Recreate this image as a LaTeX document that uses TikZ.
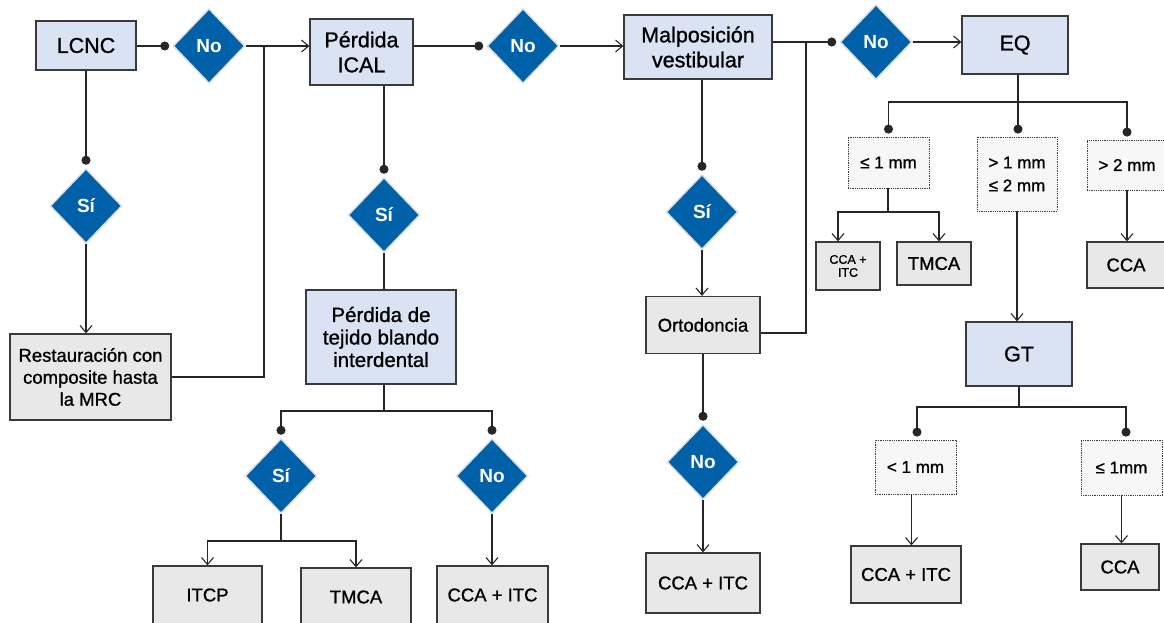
\documentclass[tikz,border=0pt]{standalone}
\usepackage{fontspec}
\setmainfont{Liberation Sans}
\newfontfamily\medfont{Liberation Sans}[FakeBold=1]
\usetikzlibrary{shapes.geometric,arrows.meta}
\definecolor{bluebox}{HTML}{DAE3F3}
\definecolor{graybox}{HTML}{E8E8E8}
\definecolor{dia}{HTML}{0060A8}
\definecolor{edgec}{HTML}{3A3A3A}
\definecolor{dotfill}{HTML}{F7F7F7}
\tikzset{
  bbox/.style={draw=edgec, line width=1.3pt, fill=bluebox, inner sep=0pt, align=center, font=\medfont\fontsize{21.5}{25}\selectfont},
  gbox/.style={draw=edgec, line width=1.3pt, fill=graybox, inner sep=0pt, align=center, font=\medfont\fontsize{18.5}{22}\selectfont},
  dbox/.style={draw=edgec, densely dotted, line width=0.8pt, fill=dotfill, inner sep=0pt, align=center, font=\medfont\fontsize{17}{23}\selectfont},
  dec/.style={diamond, fill=dia, draw=black!12, line width=1.5pt, text=white, inner sep=0pt, minimum width=72pt, minimum height=75pt, font=\bfseries\fontsize{19}{19}\selectfont},
  conn/.style={draw=black!85, line width=1.1pt},
  arr/.style={conn, -{Straight Barb[length=7pt,width=12pt]}},
  endot/.style={-{Circle[length=9pt]}, shorten >=3pt},
}
\begin{document}
\begin{tikzpicture}[x=1pt,y=-1pt]
\clip (0,0) rectangle (1164,623);
\fill[white] (0,0) rectangle (1164,623);
% top row
\node[bbox, minimum width=100pt, minimum height=49pt] (lcnc) at (86,45.5) {LCNC};
\node[dec] (no1) at (209,46) {No};
\node[bbox, minimum width=103pt, minimum height=66pt] (ical) at (361.5,52) {Pérdida\\ICAL};
\node[dec] (no2) at (523,46) {No};
\node[bbox, minimum width=148pt, minimum height=64pt] (malp) at (698,47) {Malposición\\vestibular};
\node[dec] (no5) at (876,42) {No};
\node[bbox, minimum width=106pt, minimum height=58pt] (eq) at (1015,45) {EQ};
% column LCNC
\node[dec] (si1) at (86,206) {Sí};
\node[gbox, minimum width=161pt, minimum height=86pt] (rest) at (90.5,377) {Restauración con\\composite hasta\\la MRC};
% column ICAL
\node[dec] (si2) at (384,215) {Sí};
\node[bbox, minimum width=150pt, minimum height=94pt, font=\medfont\fontsize{20.5}{22.5}\selectfont] (tej) at (381,337) {Pérdida de\\tejido blando\\interdental};
\node[dec] (si3) at (281,476) {Sí};
\node[dec] (no3) at (492,476) {No};
\node[gbox, minimum width=109pt, minimum height=58pt] (itcp) at (207.5,595) {ITCP};
\node[gbox, minimum width=110pt, minimum height=58pt] (tmca1) at (356,597) {TMCA};
\node[gbox, minimum width=111pt, minimum height=58pt] (cca1) at (492.5,595) {CCA + ITC};
% column Malposicion
\node[dec] (si4) at (702,212) {Sí};
\node[gbox, minimum width=114pt, minimum height=57pt] (orto) at (703,325) {Ortodoncia};
\node[dec] (no4) at (703,462) {No};
\node[gbox, minimum width=114pt, minimum height=60pt] (cca2) at (703,583) {CCA + ITC};
% EQ branch
\node[dbox, minimum width=81pt, minimum height=51pt] (le1) at (888.5,162.5) {≤ 1 mm};
\node[dbox, minimum width=80pt, minimum height=74pt] (gt1) at (1017,174) {> 1 mm\\≤ 2 mm};
\node[dbox, minimum width=80pt, minimum height=50pt] (gt2) at (1127,165) {> 2 mm};
\node[gbox, minimum width=64pt, minimum height=48pt, font=\medfont\fontsize{12.5}{13}\selectfont] (cca3) at (848,266) {CCA +\\ITC};
\node[gbox, minimum width=74pt, minimum height=43pt] (tmca2) at (934,263.5) {TMCA};
\node[gbox, minimum width=78pt, minimum height=46pt] (cca4) at (1126,265) {CCA};
\node[bbox, minimum width=106pt, minimum height=64pt] (gt) at (1019,354) {GT};
\node[dbox, minimum width=81pt, minimum height=54pt] (lt1) at (915.5,467) {< 1 mm};
\node[dbox, minimum width=81pt, minimum height=55pt] (le2) at (1121.5,467.5) {≤ 1mm};
\node[gbox, minimum width=110pt, minimum height=57pt] (cca5) at (906,574.5) {CCA + ITC};
\node[gbox, minimum width=78pt, minimum height=46pt] (cca6) at (1120,567) {CCA};
% junctions
\coordinate (j1) at (264,46);
\coordinate (j2) at (806,42);
\coordinate (t1) at (384,411);
\coordinate (t2) at (281,541);
\coordinate (e1) at (1018,102);
\coordinate (e2) at (888,212);
\coordinate (g1) at (1019,407);
% connectors top row
\draw[conn, endot] (lcnc.east |- no1) -- (no1.west);
\draw[arr] (no1.east) -- (no1.east -| ical.west);
\draw[conn] (rest.east) -| (j1);
\draw[conn, endot] (ical.east |- no2) -- (no2.west);
\draw[arr] (no2.east) -- (no2.east -| malp.west);
\draw[conn, endot] (malp.east |- no5) -- (no5.west);
\draw[conn] ([yshift=-8pt]orto.east) -| (j2);
\draw[arr] (no5.east) -- (no5.east -| eq.west);
% LCNC column
\draw[conn, endot] (lcnc.south) -- (si1.north);
\draw[arr] (si1.south) -- (si1.south |- rest.north);
% ICAL column
\draw[conn, endot] (ical.south -| si2) -- (si2.north);
\draw[conn] (si2.south) -- (si2.south |- tej.north);
\draw[conn] (tej.south -| t1) -- (t1);
\draw[conn, endot] (t1) -| (si3.north);
\draw[conn, endot] (t1) -| (no3.north);
\draw[conn] (si3.south) -- (t2);
\draw[arr] (t2) -| (itcp.north);
\draw[arr] (t2) -| (tmca1.north);
\draw[arr] (no3.south) -- (no3.south |- cca1.north);
% Malposicion column
\draw[conn, endot] (malp.south -| si4) -- (si4.north);
\draw[arr] (si4.south) -- (si4.south |- orto.north);
\draw[conn, endot] (orto.south) -- (no4.north);
\draw[arr] (no4.south) -- (cca2.north);
% EQ tree
\draw[conn] (eq.south -| e1) -- (e1);
\draw[conn, endot] (e1) -| (le1.north);
\draw[conn, endot] (e1) -- (e1 |- gt1.north);
\draw[conn, endot] (e1) -| (gt2.north);
\draw[conn] (le1.south -| e2) -- (e2);
\draw[arr] (e2) -| ([xshift=-10pt]cca3.north);
\draw[arr] (e2) -| ([xshift=5pt]tmca2.north);
\draw[arr] (gt2.south) -- (gt2.south |- cca4.north);
\draw[arr] (gt1.south) -- (gt1.south |- gt.north);
% GT tree
\draw[conn] (gt.south) -- (g1);
\draw[conn, endot] (g1) -| ([xshift=1.5pt]lt1.north);
\draw[conn, endot] (g1) -| ([xshift=4.5pt]le2.north);
\draw[arr] ([xshift=-4pt]lt1.south) -- ([xshift=-4pt]lt1.south |- cca5.north);
\draw[arr] (le2.south) -- (le2.south |- cca6.north);
\end{tikzpicture}
\end{document}
